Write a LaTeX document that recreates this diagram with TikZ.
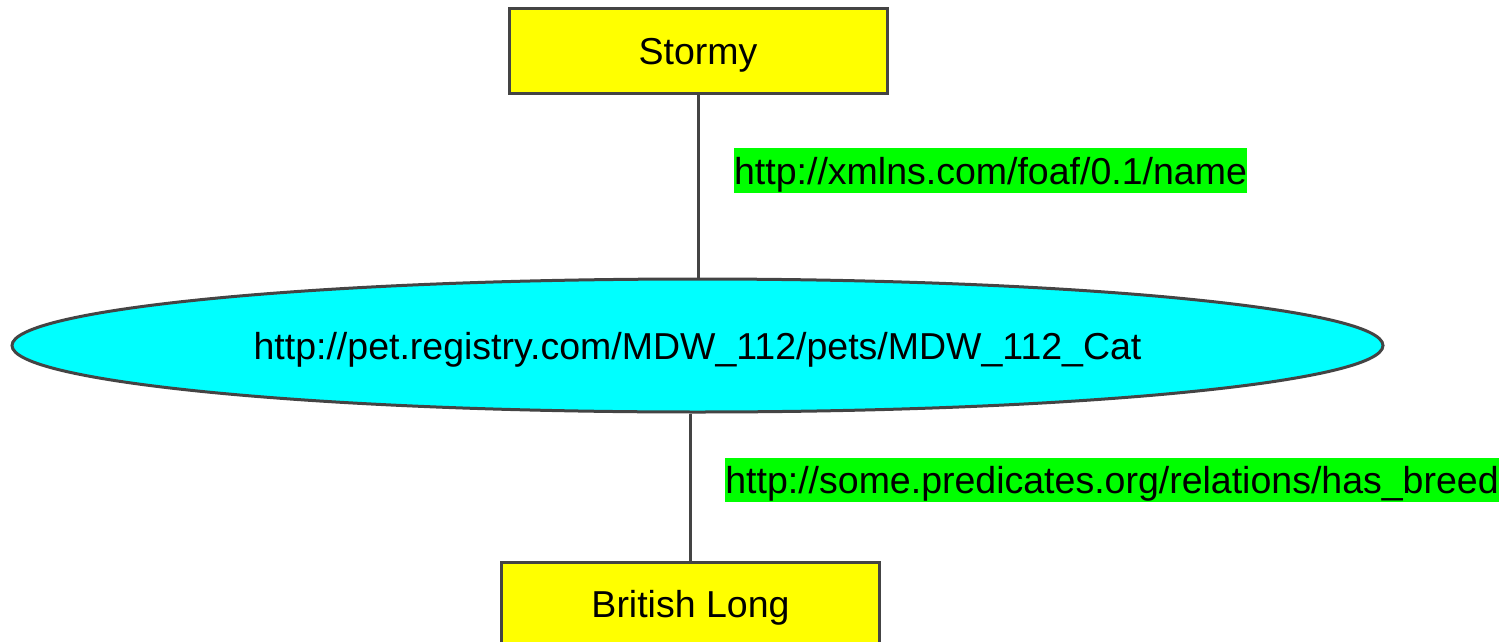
\documentclass[tikz,border=0pt]{standalone}
\usepackage{fontspec}
\setmainfont{Liberation Sans}
\usetikzlibrary{shapes.geometric}
\definecolor{edgegray}{HTML}{444444}
\definecolor{lblgreen}{HTML}{00FF00}
\definecolor{nodecyan}{HTML}{00FFFF}
\definecolor{nodeyellow}{HTML}{FFFF00}
\tikzset{
  txt/.style={font=\fontsize{37.5}{44}\selectfont, text height=27.5pt, text depth=0pt},
  lit/.style={txt, draw=edgegray, line width=3pt, fill=nodeyellow, inner sep=0pt,
    minimum width=378pt, minimum height=84pt},
  res/.style={txt, ellipse, draw=edgegray, line width=3pt, fill=nodecyan, inner sep=0pt,
    minimum width=1371pt, minimum height=133pt},
  pred/.style={txt, fill=lblgreen, inner sep=0pt},
  conn/.style={draw=edgegray, line width=3pt}
}
\begin{document}
\begin{tikzpicture}[x=1pt, y=-1pt]
\useasboundingbox (0,0) rectangle (1512,642);
\node[lit] (stormy) at (698,51) {Stormy};
\node[res] (cat) at (697.5,345.5) {http://pet.registry.com/MDW\_112/pets/MDW\_112\_Cat};
\node[lit] (brit) at (690.5,604) {British Long};
\node[pred, minimum width=511pt, minimum height=45pt] (p1) at (990.5,170.5) {http://xmlns.com/foaf/0.1/name};
\node[pred, minimum width=770pt, minimum height=44pt] (p2) at (1112,480) {http://some.predicates.org/relations/has\_breed};
\draw[conn] (stormy.south) -- (stormy.south |- cat.north);
\draw[conn] (brit.north) -- (brit.north |- cat.south);
\end{tikzpicture}
\end{document}
